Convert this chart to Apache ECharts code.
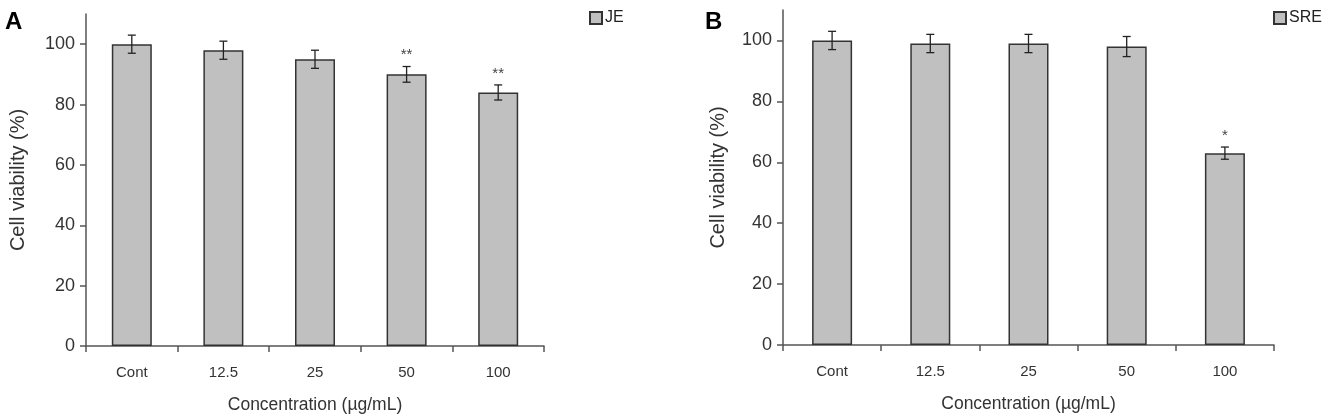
<!DOCTYPE html>
<html>
<head>
<meta charset="utf-8">
<script src="https://cdn.jsdelivr.net/npm/echarts@6/dist/echarts.min.js"></script>
<style>
html,body{margin:0;padding:0;background:#fff;}
#chart{width:1344px;height:419px;}
</style>
</head>
<body>
<div id="chart"></div>
<script>
// categories and values
var categories = ['Cont', '12.5', '25', '50', '100'];
var yTicks = [0, 20, 40, 60, 80, 100];

var jeValues = [100, 98, 95, 90, 84];
var jeErrors = [3, 3, 3, 2.6, 2.5];
var jeMarks = ['', '', '', '**', '**'];

var sreValues = [100, 99, 99, 98, 63];
var sreErrors = [3, 3, 3, 3.3, 2];
var sreMarks = ['', '', '', '', '*'];

var FONT = 'Liberation Sans';
var AXIS = '#555';

function errData(values, errors, marks) {
	var out = [];
	for (var i = 0; i < values.length; i++) {
		out.push([i, values[i] - errors[i], values[i] + errors[i], marks[i]]);
	}
	return out;
}

function renderErr(params, api) {
	var i = api.value(0);
	var lo = api.coord([i, api.value(1)]);
	var hi = api.coord([i, api.value(2)]);
	var x = lo[0];
	var cap = 4;
	var st = {stroke: '#222', lineWidth: 1.3};
	var children = [
		{type: 'line', shape: {x1: x, y1: lo[1], x2: x, y2: hi[1]}, style: st},
		{type: 'line', shape: {x1: x - cap, y1: lo[1], x2: x + cap, y2: lo[1]}, style: st},
		{type: 'line', shape: {x1: x - cap, y1: hi[1], x2: x + cap, y2: hi[1]}, style: st}
	];
	var mark = api.value(3);
	if (mark) {
		children.push({type: 'text', x: x, y: hi[1] - 4, style: {
			text: mark, fill: '#444', font: '15px ' + FONT, align: 'center', verticalAlign: 'bottom'
		}});
	}
	return {type: 'group', children: children};
}

function xAxisOpt(idx) {
	return {
		type: 'category', gridIndex: idx, data: categories,
		name: 'Concentration (µg/mL)', nameLocation: 'middle', nameGap: 50,
		nameTextStyle: {fontFamily: FONT, fontSize: 17.5, color: '#333'},
		axisLine: {lineStyle: {color: AXIS, width: 1.5}},
		axisTick: {show: true, inside: false, length: 6, lineStyle: {color: AXIS, width: 1.5}},
		axisLabel: {fontFamily: FONT, fontSize: 15, color: '#333', margin: 19}
	};
}

function yAxisOpt(idx, gap) {
	return {
		type: 'value', gridIndex: idx, min: 0, max: 110, interval: 20,
		name: 'Cell viability (%)', nameLocation: 'middle', nameGap: gap,
		nameTextStyle: {fontFamily: FONT, fontSize: 20, color: '#333'},
		splitLine: {show: false},
		axisLine: {show: true, lineStyle: {color: AXIS, width: 1.5}},
		axisTick: {show: true, length: 6, customValues: yTicks, lineStyle: {color: AXIS, width: 1.5}},
		axisLabel: {fontFamily: FONT, fontSize: 18, color: '#333', margin: 11, customValues: yTicks}
	};
}

function barSeries(name, idx, values) {
	return {
		name: name, type: 'bar', xAxisIndex: idx, yAxisIndex: idx,
		data: values, barWidth: 40,
		itemStyle: {color: '#c0c0c0', borderColor: '#333', borderWidth: 1.5},
		emphasis: {disabled: true}
	};
}

var option = {
	animation: false,
	backgroundColor: '#fff',
	title: [
		{text: 'A', left: 0, top: 5, textStyle: {fontFamily: FONT, fontSize: 24, fontWeight: 'bold', color: '#000'}},
		{text: 'B', left: 700, top: 5, textStyle: {fontFamily: FONT, fontSize: 24, fontWeight: 'bold', color: '#000'}}
	],
	legend: [
		{data: ['JE'], left: 584, top: 5, icon: 'rect', itemWidth: 12, itemHeight: 12, itemGap: 4,
			textStyle: {fontFamily: FONT, fontSize: 16, color: '#222', padding: [0, 0, 0, -2]}},
		{data: ['SRE'], left: 1268, top: 5, icon: 'rect', itemWidth: 12, itemHeight: 12, itemGap: 4,
			textStyle: {fontFamily: FONT, fontSize: 16, color: '#222', padding: [0, 0, 0, -2]}}
	],
	grid: [
		{left: 86, width: 458, top: 14, height: 333},
		{left: 783, width: 491, top: 10, height: 335}
	],
	xAxis: [xAxisOpt(0), xAxisOpt(1)],
	yAxis: [yAxisOpt(0, 58), yAxisOpt(1, 55)],
	series: [
		barSeries('JE', 0, jeValues),
		{type: 'custom', xAxisIndex: 0, yAxisIndex: 0, renderItem: renderErr,
			data: errData(jeValues, jeErrors, jeMarks), z: 10, silent: true},
		barSeries('SRE', 1, sreValues),
		{type: 'custom', xAxisIndex: 1, yAxisIndex: 1, renderItem: renderErr,
			data: errData(sreValues, sreErrors, sreMarks), z: 10, silent: true}
	]
};

var myChart = echarts.init(document.getElementById('chart'));
myChart.setOption(option);
</script>
</body>
</html>
